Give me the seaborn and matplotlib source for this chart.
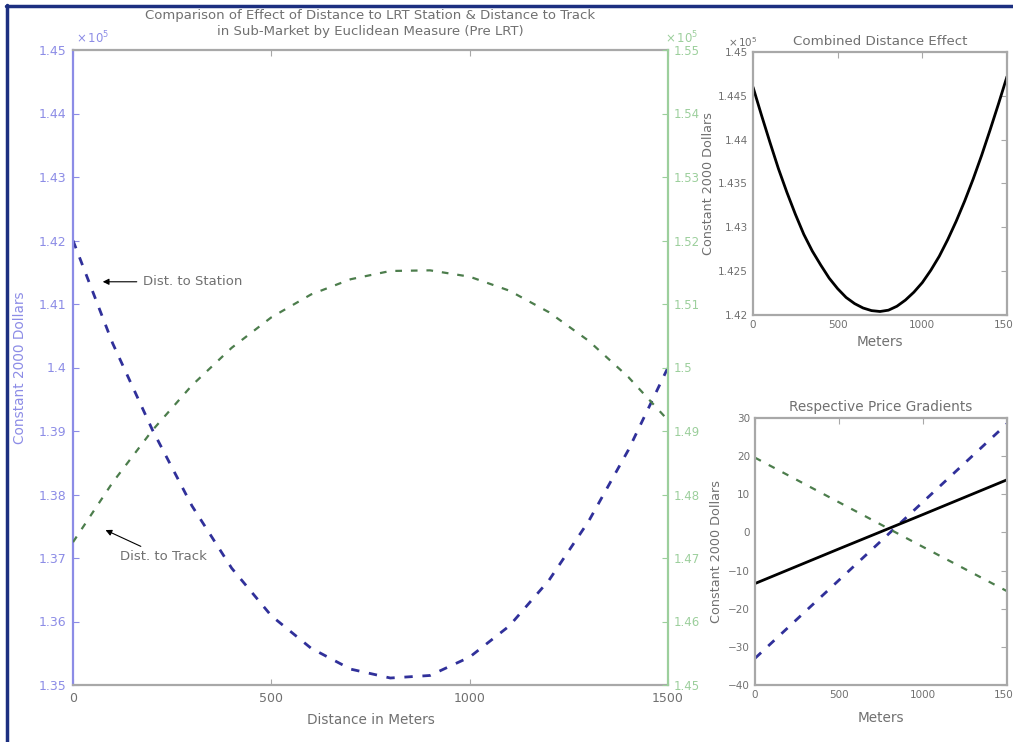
import matplotlib
matplotlib.use("Agg")
import matplotlib.pyplot as plt
import seaborn as sns
import pandas as pd
from matplotlib.lines import Line2D
from matplotlib.ticker import FuncFormatter, FixedLocator

# ---------------- data ----------------
dist_m = [0, 100, 200, 300, 400, 500, 600, 700, 800, 900, 1000, 1100, 1200, 1300, 1400, 1500]
station_effect = [142000, 140380, 139020, 137820, 136840, 136090, 135580, 135250,
                  135110, 135150, 135440, 135930, 136650, 137580, 138700, 140000]
track_effect = [147250, 148190, 149010, 149720, 150310, 150790, 151150, 151390,
                151520, 151530, 151430, 151210, 150870, 150420, 149850, 149170]
comb_dist = [0, 50, 100, 150, 200, 250, 300, 350, 400, 450, 500, 550, 600, 650, 700, 750,
             800, 850, 900, 950, 1000, 1050, 1100, 1150, 1200, 1250, 1300, 1350, 1400, 1450, 1500]
combined_effect = [144600, 144280, 143970, 143670, 143400, 143150, 142920, 142730, 142570,
                   142420, 142300, 142200, 142130, 142080, 142050, 142040, 142055, 142100,
                   142170, 142260, 142370, 142510, 142670, 142860, 143070, 143300, 143550,
                   143820, 144110, 144410, 144720]
grad_dist = [0, 500, 1000, 1500]
grad_station = [-33.0, -12.5, 8.0, 28.5]
grad_track = [19.6, 7.9, -3.8, -15.4]
grad_combined = [-13.4, -4.3, 4.7, 13.8]

left_ticks = [1.35, 1.36, 1.37, 1.38, 1.39, 1.40, 1.41, 1.42, 1.43, 1.44, 1.45]
right_ticks = [1.45, 1.46, 1.47, 1.48, 1.49, 1.50, 1.51, 1.52, 1.53, 1.54, 1.55]
comb_ticks = [1.42, 1.425, 1.43, 1.435, 1.44, 1.445, 1.45]
grad_ticks = [-40, -30, -20, -10, 0, 10, 20, 30]
x_ticks = [0, 500, 1000, 1500]

main_title = ("Comparison of Effect of Distance to LRT Station & Distance to Track\n"
              "in Sub-Market by Euclidean Measure (Pre LRT)")

# ---------------- styling ----------------
sns.set_style("white")
plt.rcParams['font.family'] = ['DejaVu Sans']

BLUE_LINE = '#30309a'
GREEN_LINE = '#4c7d4c'
BLUE_AX = '#8c8ce6'
GREEN_AX = '#9ccf9c'
GRAY_AX = '#a8a8a8'
TXT = '#707070'
MAIN_TFS = 9
SUB_TFS = 7.5
LFS = 9.8

W, H = 1013, 742
fig = plt.figure(figsize=(W / 100, H / 100), dpi=100)
fig.patch.set_facecolor('white')


def rect(l, t, r, b):
    return [l / W, 1 - b / H, (r - l) / W, (b - t) / H]


sci = FuncFormatter(lambda v, p: f"{v / 1e5:g}")

# ---------------- main plot (two y axes) ----------------
ax = fig.add_axes(rect(73, 50, 668, 685))
ax2 = ax.twinx()

df_main = pd.DataFrame({"dist": dist_m, "station": station_effect, "track": track_effect})
sns.lineplot(data=df_main, x="dist", y="station", ax=ax, color=BLUE_LINE, lw=2.0,
             linestyle=(0, (3, 3.5)))
sns.lineplot(data=df_main, x="dist", y="track", ax=ax2, color=GREEN_LINE, lw=1.6,
             linestyle=(0, (3, 4)))

ax.set_xlim(0, 1500)
ax.set_ylim(135000, 145000)
ax2.set_ylim(145000, 155000)
ax.yaxis.set_major_locator(FixedLocator([t * 1e5 for t in left_ticks]))
ax2.yaxis.set_major_locator(FixedLocator([t * 1e5 for t in right_ticks]))
ax.yaxis.set_major_formatter(sci)
ax2.yaxis.set_major_formatter(sci)
ax.set_xticks(x_ticks)

for s in ['top', 'bottom']:
    ax.spines[s].set_color(GRAY_AX)
    ax.spines[s].set_linewidth(1.6)
    ax2.spines[s].set_visible(False)
ax.spines['left'].set_color(BLUE_AX)
ax.spines['left'].set_linewidth(1.6)
ax.spines['right'].set_visible(False)
ax2.spines['left'].set_visible(False)
ax2.spines['right'].set_color(GREEN_AX)
ax2.spines['right'].set_linewidth(1.6)

ax.tick_params(axis='x', direction='in', top=True, bottom=True, length=4, pad=5,
               color=GRAY_AX, labelcolor=TXT, labelsize=MAIN_TFS)
ax.tick_params(axis='y', direction='in', left=True, right=False, length=4, pad=5,
               color=BLUE_AX, labelcolor=BLUE_AX, labelsize=MAIN_TFS)
ax2.tick_params(axis='y', direction='in', right=True, length=4, pad=4,
                color=GREEN_AX, labelcolor=GREEN_AX, labelsize=8.5)

ax.set_xlabel("Distance in Meters", color=TXT, fontsize=LFS, labelpad=6)
ax.set_ylabel("Constant 2000 Dollars", color=BLUE_AX, fontsize=LFS, labelpad=8)
ax2.set_ylabel("")
ax.set_title(main_title, color=TXT, fontsize=9.5, pad=11, linespacing=1.3)
ax.text(0.005, 1.006, r"$\times\,10^5$", transform=ax.transAxes, color=BLUE_AX,
        fontsize=8.5, ha='left', va='bottom')
ax2.text(0.995, 1.006, r"$\times\,10^5$", transform=ax2.transAxes, color=GREEN_AX,
         fontsize=8.5, ha='left', va='bottom')

ax.annotate("Dist. to Station", xy=(75, 141350), xytext=(176, 141350),
            color=TXT, fontsize=9.5, ha='left', va='center',
            arrowprops=dict(arrowstyle='-|>', color='black', lw=0.8,
                            mutation_scale=9, shrinkA=2, shrinkB=0))
ax.annotate("Dist. to Track", xy=(82, 137440), xytext=(118, 137020),
            color=TXT, fontsize=9.5, ha='left', va='center',
            arrowprops=dict(arrowstyle='-|>', color='black', lw=0.8,
                            mutation_scale=9, shrinkA=1, shrinkB=0))

# ---------------- top-right: combined effect ----------------
axc = fig.add_axes(rect(753, 52, 1007, 315))
sns.lineplot(x=comb_dist, y=combined_effect, ax=axc, color='black', lw=2.0)
axc.set_xlim(0, 1500)
axc.set_ylim(142000, 145000)
axc.yaxis.set_major_locator(FixedLocator([t * 1e5 for t in comb_ticks]))
axc.yaxis.set_major_formatter(sci)
axc.set_xticks(x_ticks)
axc.set_title("Combined Distance Effect", color=TXT, fontsize=9.6, pad=5)
axc.text(0.02, 1.01, r"$\times\,10^5$", transform=axc.transAxes, color=TXT,
         fontsize=7.5, ha='right', va='bottom')
axc.set_xlabel("Meters", color=TXT, fontsize=LFS, labelpad=4)
axc.set_ylabel("Constant 2000 Dollars", color=TXT, fontsize=9.2, labelpad=2)

# ---------------- bottom-right: gradients ----------------
axg = fig.add_axes(rect(755, 418, 1007, 685))
df_g = pd.DataFrame({"d": grad_dist, "st": grad_station, "tr": grad_track, "cb": grad_combined})
sns.lineplot(data=df_g, x="d", y="st", ax=axg, color=BLUE_LINE, lw=2.0, linestyle=(0, (3, 3.5)))
sns.lineplot(data=df_g, x="d", y="tr", ax=axg, color=GREEN_LINE, lw=1.6, linestyle=(0, (3, 4)))
sns.lineplot(data=df_g, x="d", y="cb", ax=axg, color='black', lw=2.0)
axg.set_xlim(0, 1500)
axg.set_ylim(-40, 30)
axg.set_yticks(grad_ticks)
axg.set_xticks(x_ticks)
axg.set_title("Respective Price Gradients", color=TXT, fontsize=9.8, pad=5)
axg.set_xlabel("Meters", color=TXT, fontsize=LFS, labelpad=8)
axg.set_ylabel("Constant 2000 Dollars", color=TXT, fontsize=9.2, labelpad=4)

for a in (axc, axg):
    for s in a.spines.values():
        s.set_color(GRAY_AX)
        s.set_linewidth(1.6)
    a.tick_params(direction='in', top=True, right=True, length=4, color=GRAY_AX,
                  labelcolor=TXT, labelsize=SUB_TFS)

# ---------------- navy frame (left and top edges) ----------------
fig.add_artist(Line2D([7 / W, 7 / W], [0, 1 - 5 / H], transform=fig.transFigure,
                      color='#1c2f80', lw=2.5))
fig.add_artist(Line2D([6 / W, 1], [1 - 6 / H, 1 - 6 / H], transform=fig.transFigure,
                      color='#1c2f80', lw=2.5))

fig.savefig("out.png", dpi=100)
